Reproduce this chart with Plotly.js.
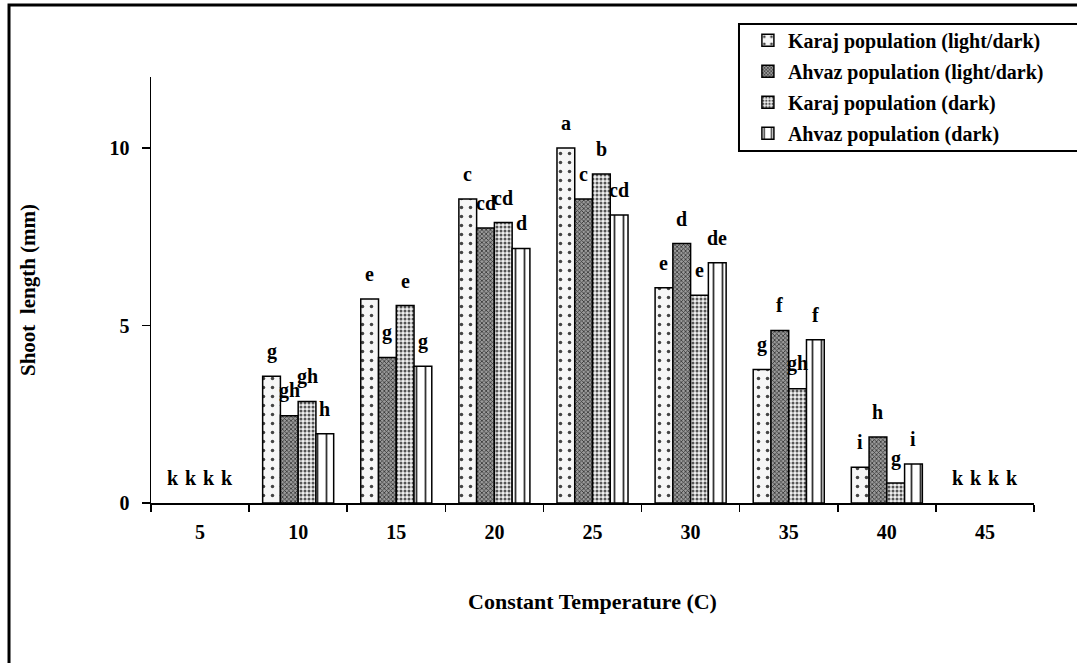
<!DOCTYPE html>
<html>
<head>
<meta charset="utf-8">
<script src="https://cdn.plot.ly/plotly-3.0.1.min.js"></script>
<style>html,body{margin:0;padding:0;background:#fff;}#chart{width:1077px;height:663px;}</style>
</head>
<body>
<div id="chart"></div>
<script>
// ---- data ----
const temperatures = ['5', '10', '15', '20', '25', '30', '35', '40', '45'];
const seriesNames = ['Karaj population (light/dark)', 'Ahvaz population (light/dark)', 'Karaj population (dark)', 'Ahvaz population (dark)'];
const karajLightDark = [0, 3.57, 5.75, 8.56, 10.0, 6.06, 3.76, 1.01, 0];
const ahvazLightDark = [0, 2.46, 4.10, 7.75, 8.56, 7.31, 4.86, 1.86, 0];
const karajDark = [0, 2.86, 5.56, 7.90, 9.27, 5.85, 3.22, 0.56, 0];
const ahvazDark = [0, 1.95, 3.85, 7.17, 8.11, 6.77, 4.60, 1.10, 0];
const karajLightDarkLetters = ['k', 'g', 'e', 'c', 'a', 'e', 'g', 'i', 'k'];
const ahvazLightDarkLetters = ['k', 'gh', 'g', 'cd', 'c', 'd', 'f', 'h', 'k'];
const karajDarkLetters = ['k', 'gh', 'e', 'cd', 'b', 'e', 'gh', 'g', 'k'];
const ahvazDarkLetters = ['k', 'h', 'g', 'd', 'cd', 'de', 'f', 'i', 'k'];
const yTicks = [0, 5, 10];

// ---- styling ----
const FONT = 'Liberation Serif, serif';
const values = [karajLightDark, ahvazLightDark, karajDark, ahvazDark];
const letters = [karajLightDarkLetters, ahvazLightDarkLetters, karajDarkLetters, ahvazDarkLetters];
const patterns = [
  {shape: '.', bgcolor: '#f6f6f6', fgcolor: '#444', size: 9, solidity: 0.12},
  {shape: 'x', bgcolor: '#9a9a9a', fgcolor: '#333', size: 3, solidity: 0.45},
  {shape: '.', bgcolor: '#f0f0f0', fgcolor: '#555', size: 4, solidity: 0.45},
  {shape: '|', bgcolor: '#ffffff', fgcolor: '#333', size: 9, solidity: 0.2}
];
const BARGAP = 0.276;

const traces = values.map((v, i) => ({
  type: 'bar',
  name: seriesNames[i],
  x: temperatures,
  // zero-length bars are not drawn (no outline at the axis), their letters still are
  y: v.map(val => (val === 0 ? null : val)),
  legendgroup: 'g' + i,
  marker: {
    color: patterns[i].bgcolor,
    line: {color: '#000', width: 1.5},
    pattern: patterns[i]
  },
  hoverinfo: 'x+y+name'
}));

const barW = (1 - BARGAP) / values.length;
const annotations = [];
values.forEach((v, i) => {
  const off = (i - (values.length - 1) / 2) * barW;
  v.forEach((val, j) => {
    annotations.push({
      x: j + off, y: val, xref: 'x', yref: 'y',
      text: letters[i][j], showarrow: false,
      yanchor: 'middle', yshift: 25,
      font: {family: FONT, size: 20, color: '#000', weight: 'bold'}
    });
  });
});

const layout = {
  width: 1077, height: 663,
  margin: {l: 151, r: 43, t: 77, b: 160},
  paper_bgcolor: '#fff', plot_bgcolor: '#fff',
  barmode: 'group', bargap: BARGAP, bargroupgap: 0,
  font: {family: FONT, size: 19, color: '#000', weight: 'bold'},
  xaxis: {
    type: 'category', tickson: 'boundaries', ticks: 'outside', ticklen: 7, tickwidth: 1.5, tickcolor: '#000',
    showline: true, linecolor: '#000', linewidth: 1.5, showgrid: false, zeroline: false,
    tickfont: {family: FONT, size: 20, color: '#000', weight: 'bold'},
    ticklabelstandoff: 10,
    title: {text: 'Constant Temperature (C)', standoff: 52, font: {family: FONT, size: 22, color: '#000', weight: 'bold'}}
  },
  yaxis: {
    range: [0, 12], tickvals: yTicks, ticks: 'outside', ticklen: 8, tickwidth: 1.5, tickcolor: '#000',
    showline: true, linecolor: '#000', linewidth: 1.5, showgrid: false, zeroline: false,
    tickfont: {family: FONT, size: 20, color: '#000', weight: 'bold'},
    ticklabelstandoff: 8,
    title: {text: 'Shoot  length (mm)', standoff: 68, font: {family: FONT, size: 21, color: '#000', weight: 'bold'}}
  },
  showlegend: true,
  legend: {
    x: 0.676, y: 1.132, xanchor: 'left', yanchor: 'top',
    bgcolor: 'rgba(0,0,0,0)', borderwidth: 0, tracegroupgap: 2,
    font: {family: FONT, size: 20, color: '#000', weight: 'bold'}
  },
  shapes: [
    {type: 'rect', xref: 'paper', yref: 'paper', x0: -0.1608, x1: 1.3, y0: -0.6, y1: 1.169, line: {color: '#000', width: 3}, layer: 'above'},
    {type: 'rect', xref: 'paper', yref: 'paper', x0: 0.6659, x1: 1.3, y0: 0.8263, y1: 1.1244, line: {color: '#000', width: 2}, layer: 'above'}
  ],
  annotations: annotations
};

Plotly.newPlot('chart', traces, layout, {displayModeBar: false, staticPlot: true});
</script>
</body>
</html>
